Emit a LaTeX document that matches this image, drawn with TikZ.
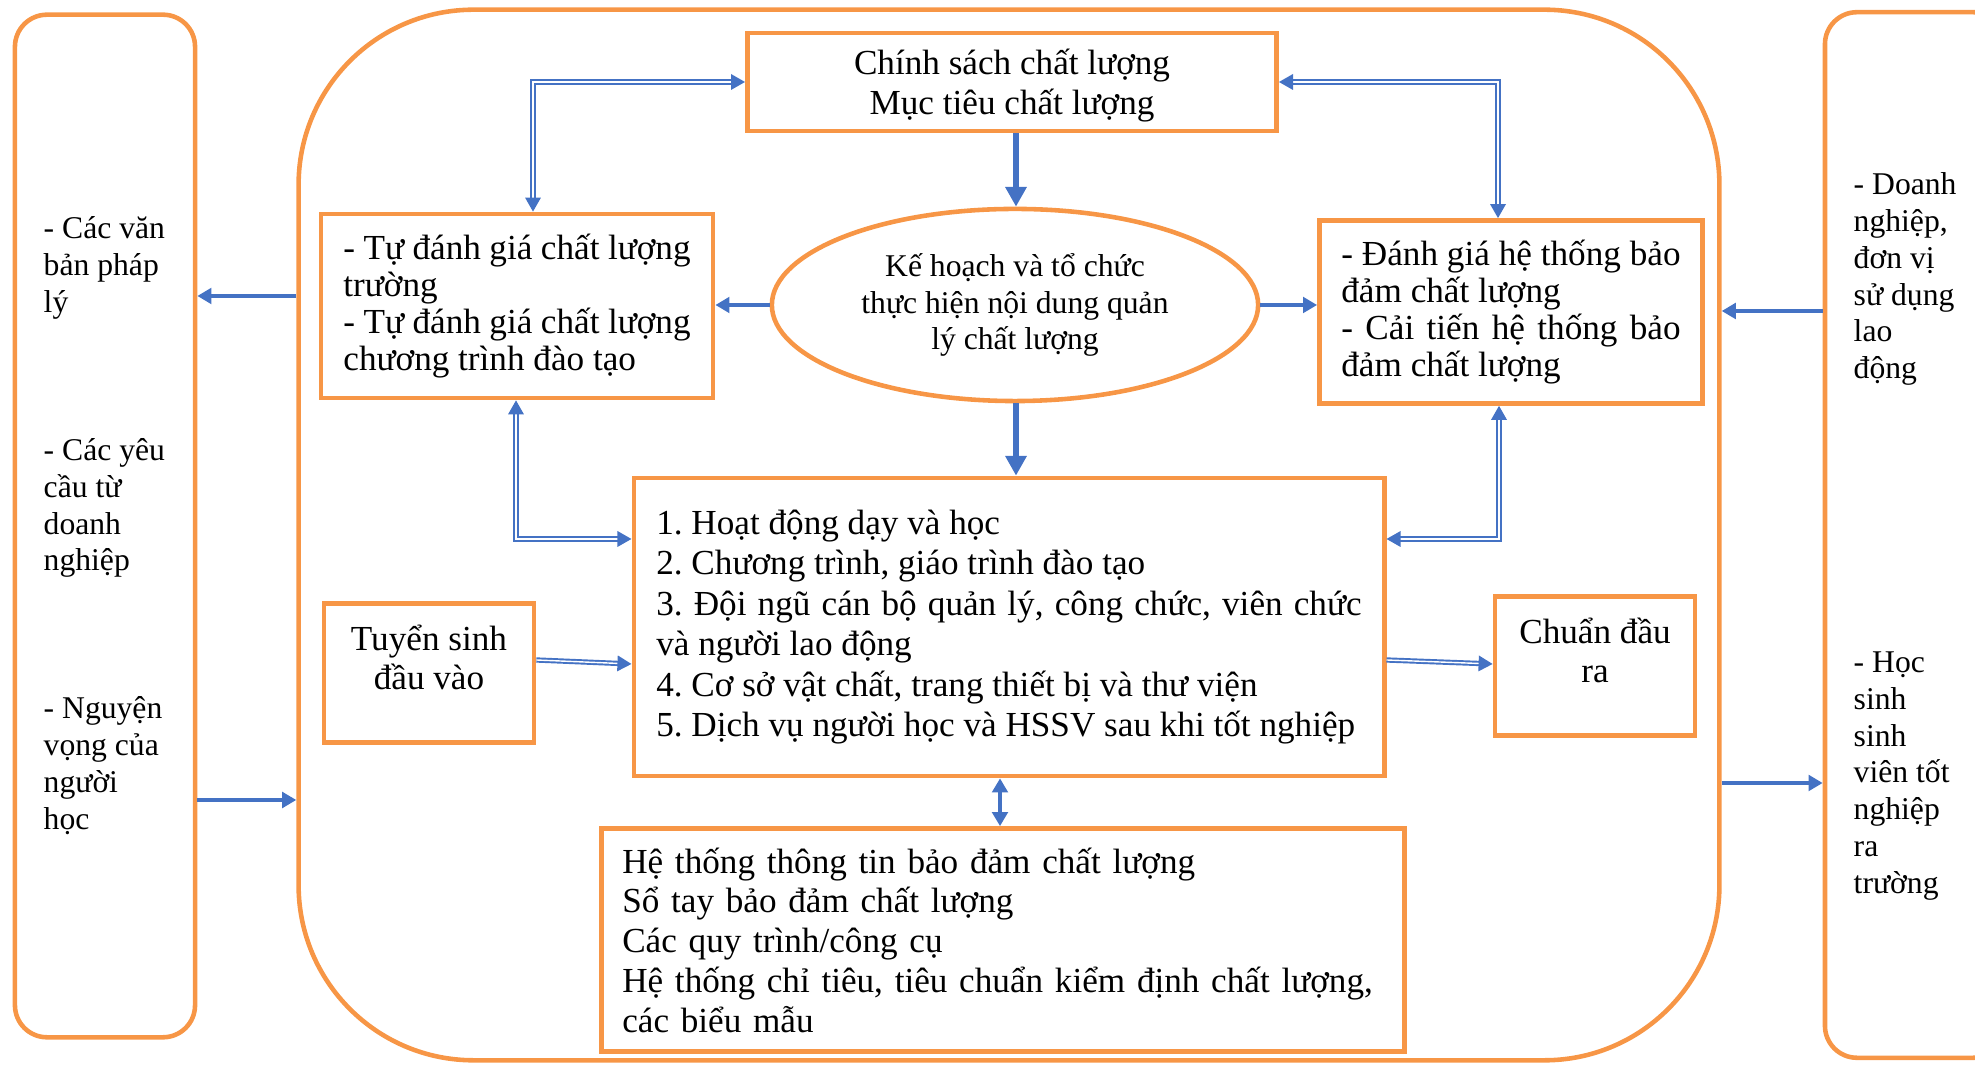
\documentclass[tikz,border=0pt]{standalone}
\usepackage{fontspec}
\setmainfont{Liberation Serif}
\usepackage{xcolor}
\usetikzlibrary{shapes,arrows.meta,positioning,calc}
\definecolor{cam}{HTML}{F79646}
\definecolor{xanh}{HTML}{4472C4}
\frenchspacing

\begin{document}
\begin{tikzpicture}[x=0.01cm, y=-0.01cm, >={Triangle[length=4pt,width=4.4pt]},
	every node/.style={font=\fontsize{10}{11.3}\selectfont},
	khung/.style={rectangle, draw=cam, line width=1.3pt},
	cot/.style={khung, rounded corners=0.32cm},
	nho/.style={font=\fontsize{9}{10.5}\selectfont, align=left, anchor=west, inner sep=0pt},
	muiten/.style={draw=xanh, line width=1.3pt},
	muito/.style={draw=xanh, line width=1.9pt, >={Triangle[length=5.6pt,width=5.8pt]}},
	muikep/.style={draw=xanh, double=white, double distance=0.4pt, line width=0.55pt}]
				\useasboundingbox (0,0) rectangle (1975,1065);
				\clip (0,0) rectangle (1975,1065);
				
				\node[cot, minimum width=1.8cm, minimum height=10.22cm] (trai) at (105,526) {};
				\node[khung, rounded corners=1.75cm, minimum width=14.2cm, minimum height=10.5cm] (truong) at (1009,535) {};
				\node[cot, minimum width=1.8cm, minimum height=10.45cm] (phai) at (1915,535) {};
				
				\node[nho] (vanban) at (43,268) {- Các văn\\bản pháp\\lý};
				\node[nho] (yeucau) at (43,508) {- Các yêu\\cầu từ\\doanh\\nghiệp};
				\node[nho] (nguyenvong) at (43,766) {- Nguyện\\vọng của\\người\\học};
				\node[nho] (doanhnghiep) at (1853,279) {- Doanh\\nghiệp,\\đơn vị\\sử dụng\\lao\\động};
				\node[nho] (hocsinh) at (1853,776) {- Học\\sinh\\sinh\\viên tốt\\nghiệp\\ra\\trường};
				
				\node[khung, align=center, minimum width=5.29cm, minimum height=0.98cm, text depth=-0.5pt] (chinhsach) at (1012,82) {Chính sách chất lượng\\Mục tiêu chất lượng};
				\node[ellipse, draw=cam, line width=1.3pt, inner sep=0pt, minimum width=4.86cm, minimum height=1.92cm, align=center, font=\fontsize{9}{10.5}\selectfont] (kehoach) at (1015,305) {Kế hoạch và tổ chức\\thực hiện nội dung quản\\lý chất lượng};
				\node[khung, text width=3.47cm, align=justify, inner xsep=0.225cm, minimum height=1.84cm, font=\fontsize{10}{10.5}\selectfont] (tudanhgia) at (517,306) {- Tự đánh giá chất lượng\linebreak trường\\- Tự đánh giá chất lượng\linebreak chương trình đào tạo};
				\node[khung, text width=3.39cm, align=justify, inner xsep=0.22cm, minimum height=1.83cm, font=\fontsize{10}{10.5}\selectfont] (danhgiaht) at (1511,312) {- Đánh giá hệ thống bảo\linebreak đảm chất lượng\\- Cải tiến hệ thống bảo\linebreak đảm chất lượng};
				\node[khung, text width=7.05cm, align=justify, inner xsep=0.225cm, minimum height=2.98cm, font=\fontsize{10}{11.5}\selectfont] (noidung) at (1009,627) {1. Hoạt động dạy và học\\2. Chương trình, giáo trình đào tạo\\3. Đội ngũ cán bộ quản lý, công chức, viên chức\linebreak và người lao động\\4. Cơ sở vật chất, trang thiết bị và thư viện\\5. Dịch vụ người học và HSSV sau khi tốt nghiệp};
				\node[khung, align=center, minimum width=2.1cm, minimum height=1.39cm, text depth=9pt] (tuyensinh) at (429,673) {Tuyển sinh\\đầu vào};
				\node[khung, align=center, minimum width=2cm, minimum height=1.39cm, text depth=9pt] (chuandaura) at (1595,666) {Chuẩn đầu\\ra};
				\node[khung, text width=7.61cm, align=left, inner xsep=0.21cm, minimum height=2.23cm] (hethong) at (1003,940) {Hệ thống thông tin bảo đảm chất lượng\\Sổ tay bảo đảm chất lượng\\Các quy trình/công cụ\\Hệ thống chỉ tiêu, tiêu chuẩn kiểm định chất lượng,\\các biểu mẫu};
				
				\draw[muiten, ->] (truong.west |- 0,296) -- (trai.east |- 0,296);
				\draw[muiten, ->] (trai.east |- 0,800) -- (truong.west |- 0,800);
				\draw[muiten, ->] (phai.west |- 0,311) -- (truong.east |- 0,311);
				\draw[muiten, ->] (truong.east |- 0,783) -- (phai.west |- 0,783);
				\draw[muito, ->] (chinhsach.south -| 1016,0) -- (kehoach.north -| 1016,0);
				\draw[muiten, ->] (kehoach.west) -- (tudanhgia.east |- kehoach.west);
				\draw[muiten, ->] (kehoach.east) -- (danhgiaht.west |- kehoach.east);
				\draw[muito, ->] (kehoach.south -| 1016,0) -- (noidung.north -| 1016,0);
				\draw[muiten, <->] (noidung.south -| 1000,0) -- (hethong.north -| 1000,0);
				
				\draw[muikep, <->] (tudanhgia.north -| 533,0) |- (chinhsach.west);
				\draw[muikep, <->] (danhgiaht.north -| 1498,0) |- (chinhsach.east);
				\draw[muikep, <->] (tudanhgia.south -| 516,0) |- (noidung.west |- 0,539);
				\draw[muikep, <->] (danhgiaht.south -| 1499,0) |- (noidung.east |- 0,539);
				\draw[muikep, ->] ($(tuyensinh.east)+(0,-13)$) -- (noidung.west |- 0,664);
				\draw[muikep, ->] (noidung.east |- 0,660) -- (chuandaura.west |- 0,664);
			\end{tikzpicture}
\end{document}
